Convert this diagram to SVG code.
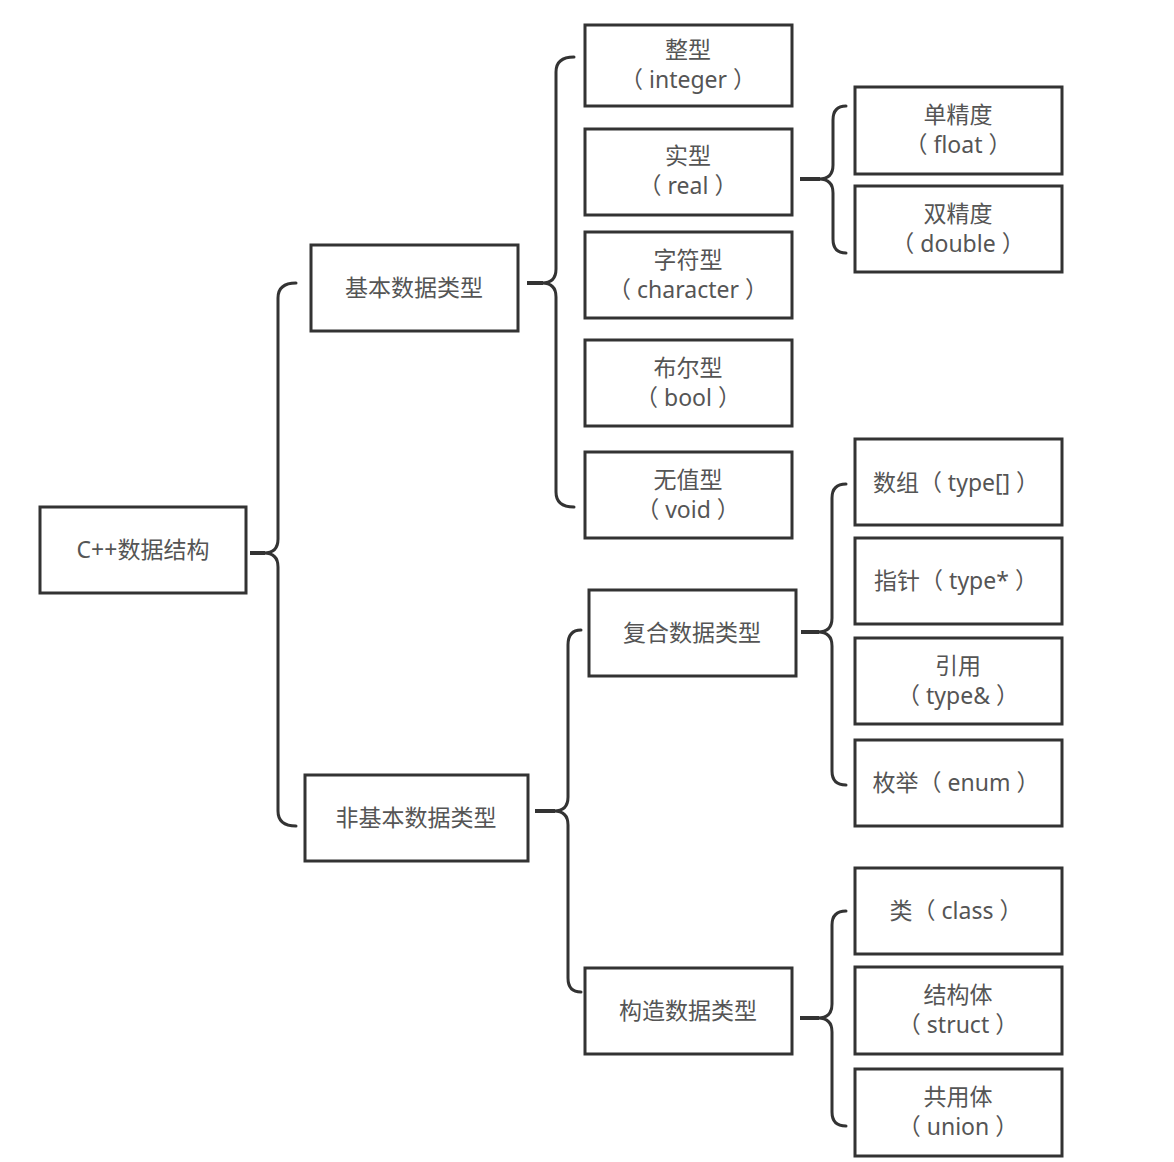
<svg xmlns="http://www.w3.org/2000/svg" width="1174" height="1162" viewBox="0 0 1174 1162">
<style>
.box{fill:#fff;stroke:#333;stroke-width:3}
.t{font-family:"Noto Sans","Noto Sans CJK SC",sans-serif;font-size:23px;fill:#555;text-anchor:middle}
.br{fill:none;stroke:#333;stroke-width:3;stroke-linecap:round;stroke-linejoin:round}
.stub{fill:none;stroke:#333;stroke-width:4;stroke-linecap:butt}
</style>
<rect width="1174" height="1162" fill="#fff"/>
<g id="connectors">
<path class="br" d="M296,283 Q278,283 278,298 L278,539 Q278,553 264,553 Q278,553 278,567 L278,811 Q278,826 296,826"/>
<line class="stub" x1="250" y1="553" x2="265" y2="553"/>
<path class="br" d="M574,57 Q556,57 556,72 L556,269 Q556,283 542,283 Q556,283 556,297 L556,492 Q556,507 574,507"/>
<line class="stub" x1="527" y1="283" x2="543" y2="283"/>
<path class="br" d="M846,106 Q833,106 833,120 L833,165 Q833,179 819,179 Q833,179 833,193 L833,239 Q833,253 846,253"/>
<line class="stub" x1="800" y1="179" x2="820" y2="179"/>
<path class="br" d="M581,630 Q568,630 568,645 L568,797 Q568,811 554,811 Q568,811 568,825 L568,978 Q568,992 581,992"/>
<line class="stub" x1="535" y1="811" x2="555" y2="811"/>
<path class="br" d="M846,484 Q832,484 832,498 L832,618 Q832,632 818,632 Q832,632 832,646 L832,771 Q832,785 846,785"/>
<line class="stub" x1="801" y1="632" x2="819" y2="632"/>
<path class="br" d="M846,911 Q832,911 832,925 L832,1004 Q832,1018 818,1018 Q832,1018 832,1032 L832,1112 Q832,1126 846,1126"/>
<line class="stub" x1="800" y1="1018" x2="819" y2="1018"/>
</g>
<g id="root"><rect class="box" x="40" y="507" width="206" height="86"/><text class="t" x="143" y="558">C++数据结构</text></g>
<g id="basic"><rect class="box" x="311" y="245" width="207" height="86"/><text class="t" x="414" y="296">基本数据类型</text></g>
<g id="nonbasic"><rect class="box" x="305" y="775" width="223" height="86"/><text class="t" x="416" y="826">非基本数据类型</text></g>
<g id="integer"><rect class="box" x="585" y="25" width="207" height="81"/><text class="t" x="688" y="58">整型</text><text class="t" x="688" y="88">（ integer ）</text></g>
<g id="real"><rect class="box" x="585" y="129" width="207" height="86"/><text class="t" x="688" y="164">实型</text><text class="t" x="688" y="194">（ real ）</text></g>
<g id="character"><rect class="box" x="585" y="232" width="207" height="86"/><text class="t" x="688" y="268">字符型</text><text class="t" x="688" y="298">（ character ）</text></g>
<g id="bool"><rect class="box" x="585" y="340" width="207" height="86"/><text class="t" x="688" y="376">布尔型</text><text class="t" x="688" y="406">（ bool ）</text></g>
<g id="void"><rect class="box" x="585" y="452" width="207" height="86"/><text class="t" x="688" y="488">无值型</text><text class="t" x="688" y="518">（ void ）</text></g>
<g id="float"><rect class="box" x="855" y="87" width="207" height="87"/><text class="t" x="958" y="123">单精度</text><text class="t" x="958" y="153">（ float ）</text></g>
<g id="double"><rect class="box" x="855" y="186" width="207" height="86"/><text class="t" x="958" y="222">双精度</text><text class="t" x="958" y="252">（ double ）</text></g>
<g id="compound"><rect class="box" x="589" y="590" width="207" height="86"/><text class="t" x="692" y="641">复合数据类型</text></g>
<g id="constructed"><rect class="box" x="585" y="968" width="207" height="86"/><text class="t" x="688" y="1019">构造数据类型</text></g>
<g id="array"><rect class="box" x="855" y="439" width="207" height="86"/><text class="t" x="956" y="491">数组（ type[] ）</text></g>
<g id="pointer"><rect class="box" x="855" y="538" width="207" height="86"/><text class="t" x="956" y="589">指针（ type* ）</text></g>
<g id="reference"><rect class="box" x="855" y="638" width="207" height="86"/><text class="t" x="958" y="674">引用</text><text class="t" x="958" y="704">（ type&amp; ）</text></g>
<g id="enum"><rect class="box" x="855" y="740" width="207" height="86"/><text class="t" x="956" y="791">枚举（ enum ）</text></g>
<g id="class"><rect class="box" x="855" y="868" width="207" height="86"/><text class="t" x="956" y="919">类（ class ）</text></g>
<g id="struct"><rect class="box" x="855" y="967" width="207" height="87"/><text class="t" x="958" y="1003">结构体</text><text class="t" x="958" y="1033">（ struct ）</text></g>
<g id="union"><rect class="box" x="855" y="1069" width="207" height="87"/><text class="t" x="958" y="1105">共用体</text><text class="t" x="958" y="1135">（ union ）</text></g>
</svg>
